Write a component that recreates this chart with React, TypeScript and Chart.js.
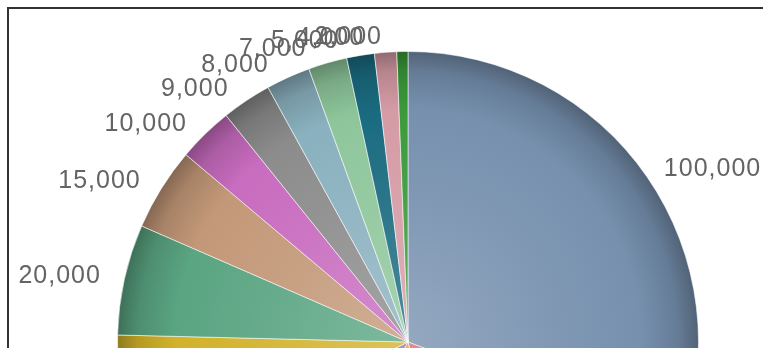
import React, { useEffect, useRef } from "react";
import { Chart, registerables } from "chart.js";

Chart.register(...registerables);

// Slices in drawing order (clockwise from 12 o'clock)
const sliceLabels = [
  "100,000", "50,000", "40,000", "30,000", "25,000", "20,000", "15,000",
  "10,000", "9,000", "8,000", "7,000", "5,000", "4,000", "2,000",
];
const sliceValues = [
  100000, 50000, 40000, 30000, 25000, 20000, 15000,
  10000, 9000, 8000, 7000, 5000, 4000, 2000,
];
const sliceColors = [
  "#7690ae", "#d86a72", "#e39a4c", "#8a74b2", "#d2b22a", "#5aa582", "#c39878",
  "#c86cbf", "#8c8c8c", "#8ab1bf", "#8ec69b", "#1a6b80", "#d59ba5", "#3a9a3a",
];

function shade(hex: string, amt: number): string {
  const n = parseInt(hex.slice(1), 16);
  let r = (n >> 16) & 255, g = (n >> 8) & 255, b = n & 255;
  const t = amt >= 0 ? 255 : 0;
  const p = Math.abs(amt);
  r = Math.round(r + (t - r) * p);
  g = Math.round(g + (t - g) * p);
  b = Math.round(b + (t - b) * p);
  return `rgb(${r},${g},${b})`;
}

const labelPlugin = {
  id: "pieLabels",
  afterDatasetsDraw(chart: any) {
    const meta = chart.getDatasetMeta(0);
    const ctx = chart.ctx as any;
    ctx.save();
    ctx.font = '25px "Liberation Sans", Arial, sans-serif';
    try { ctx.letterSpacing = "1px"; } catch (e) {}
    ctx.fillStyle = "#646464";
    ctx.textBaseline = "middle";
    meta.data.forEach((arc: any, i: number) => {
      const p = arc.getProps(["x", "y", "startAngle", "endAngle", "outerRadius"], true);
      const mid = (p.startAngle + p.endAngle) / 2;
      const phi = mid + Math.PI / 2;
      const s = Math.sin(phi);
      const c = Math.cos(phi);
      const a = p.outerRadius + 24;
      const b = p.outerRadius + 14;
      let x = p.x + a * s;
      const y = p.y - b * c;
      const up = Math.max(c, 0);
      if (s >= 0) {
        ctx.textAlign = "left";
        x -= 3;
      } else {
        ctx.textAlign = "right";
        x -= 20 * Math.pow(up, 8);
      }
      ctx.fillText(sliceLabels[i], x, y);
    });
    ctx.restore();
  },
};

export default function App() {
  const ref = useRef<HTMLCanvasElement | null>(null);
  useEffect(() => {
    if (!ref.current) return;
    const chart = new Chart(ref.current, {
      type: "pie",
      data: {
        labels: sliceLabels,
        datasets: [
          {
            data: sliceValues,
            backgroundColor: (ctx: any) => {
              const base = sliceColors[ctx.dataIndex];
              const area = ctx.chart.chartArea;
              if (!area) return base;
              const cx = (area.left + area.right) / 2;
              const cy = (area.top + area.bottom) / 2;
              const r = Math.min(area.right - area.left, area.bottom - area.top) / 2;
              const g = ctx.chart.ctx.createRadialGradient(cx, cy, 0, cx, cy, r);
              g.addColorStop(0, shade(base, 0.22));
              g.addColorStop(0.5, shade(base, 0.07));
              g.addColorStop(0.8, base);
              g.addColorStop(0.93, shade(base, -0.14));
              g.addColorStop(1, shade(base, -0.32));
              return g;
            },
            borderColor: "rgba(255,255,255,0.55)",
            borderWidth: 1,
          },
        ],
      },
      options: {
        responsive: false,
        maintainAspectRatio: false,
        animation: false,
        layout: { padding: 119 },
        plugins: {
          legend: { display: false },
          tooltip: { enabled: false },
        },
      },
      plugins: [labelPlugin],
    });
    return () => chart.destroy();
  }, []);

  return (
    <div
      style={{
        position: "fixed",
        left: 7,
        top: 7,
        width: 754,
        height: 339,
        overflow: "hidden",
        borderTop: "2px solid #333",
        borderLeft: "2px solid #333",
        background: "#fff",
      }}
    >
      <canvas
        ref={ref}
        width={820}
        height={820}
        style={{ position: "absolute", left: -11, top: -77, width: 820, height: 820 }}
      />
    </div>
  );
}
